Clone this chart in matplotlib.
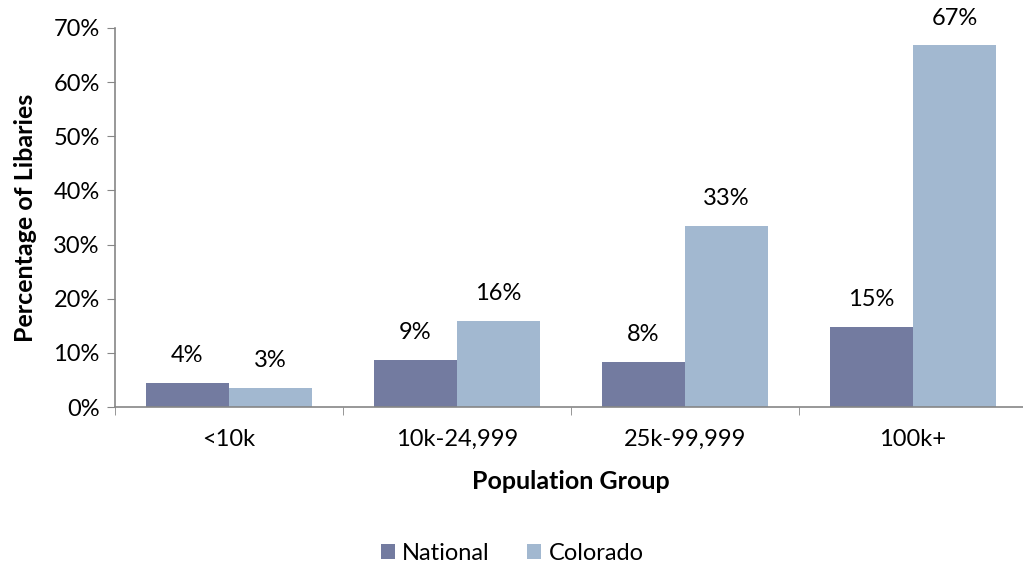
import matplotlib
matplotlib.use('Agg')
import matplotlib.pyplot as plt
import numpy as np

plt.rcParams['font.family'] = ['Lato', 'DejaVu Sans']

groups = ['<10k', '10k-24,999', '25k-99,999', '100k+']
national = [4.5, 8.7, 8.4, 14.8]
colorado = [3.6, 15.9, 33.4, 66.8]
national_lbl = ['4%', '9%', '8%', '15%']
colorado_lbl = ['3%', '16%', '33%', '67%']

fs = 17

fig = plt.figure(figsize=(10.23, 5.66), dpi=100)
ax = fig.add_axes([115/1023, 1 - 407/566, 912/1023, 379/566])

x = np.arange(len(groups))
w = 0.365
b1 = ax.bar(x - w/2, national, w, color='#737ba0', label='National')
b2 = ax.bar(x + w/2, colorado, w, color='#a2b8d0', label='Colorado')

for bars, lbls in ((b1, national_lbl), (b2, colorado_lbl)):
    for r, t in zip(bars, lbls):
        ax.annotate(t, (r.get_x() + r.get_width()/2, r.get_height()),
                    xytext=(0, 12), textcoords='offset points',
                    ha='center', va='bottom', fontsize=fs)

ax.set_xlim(-0.5, 3.5)
ax.set_ylim(0, 70)
ax.set_yticks(np.arange(0, 71, 10))
ax.set_yticklabels([f'{v}%' for v in range(0, 71, 10)], fontsize=fs)
ax.set_xticks(x)
ax.set_xticklabels(groups, fontsize=fs)
ax.tick_params(axis='x', length=0, pad=16)
ax.set_xticks(np.arange(-0.5, 4, 1), minor=True)
ax.tick_params(axis='x', which='minor', length=6, color='#868686', direction='out')
ax.tick_params(axis='y', length=6, color='#868686', direction='out', pad=5)

for s in ('top', 'right'):
    ax.spines[s].set_visible(False)
for s in ('left', 'bottom'):
    ax.spines[s].set_color('#868686')
    ax.spines[s].set_linewidth(1.2)

ax.set_ylabel('Percentage of Libaries', fontsize=18, fontweight='bold', labelpad=12)
ax.set_xlabel('Population Group', fontsize=18, fontweight='bold', labelpad=14)

fig.legend(handles=[b1, b2], loc='center', bbox_to_anchor=(512/1023, 1 - 553/566),
           ncol=2, frameon=False, fontsize=fs, handlelength=0.6, handleheight=0.6,
           handletextpad=0.3, columnspacing=1.6)

fig.savefig('out.png', dpi=100)
